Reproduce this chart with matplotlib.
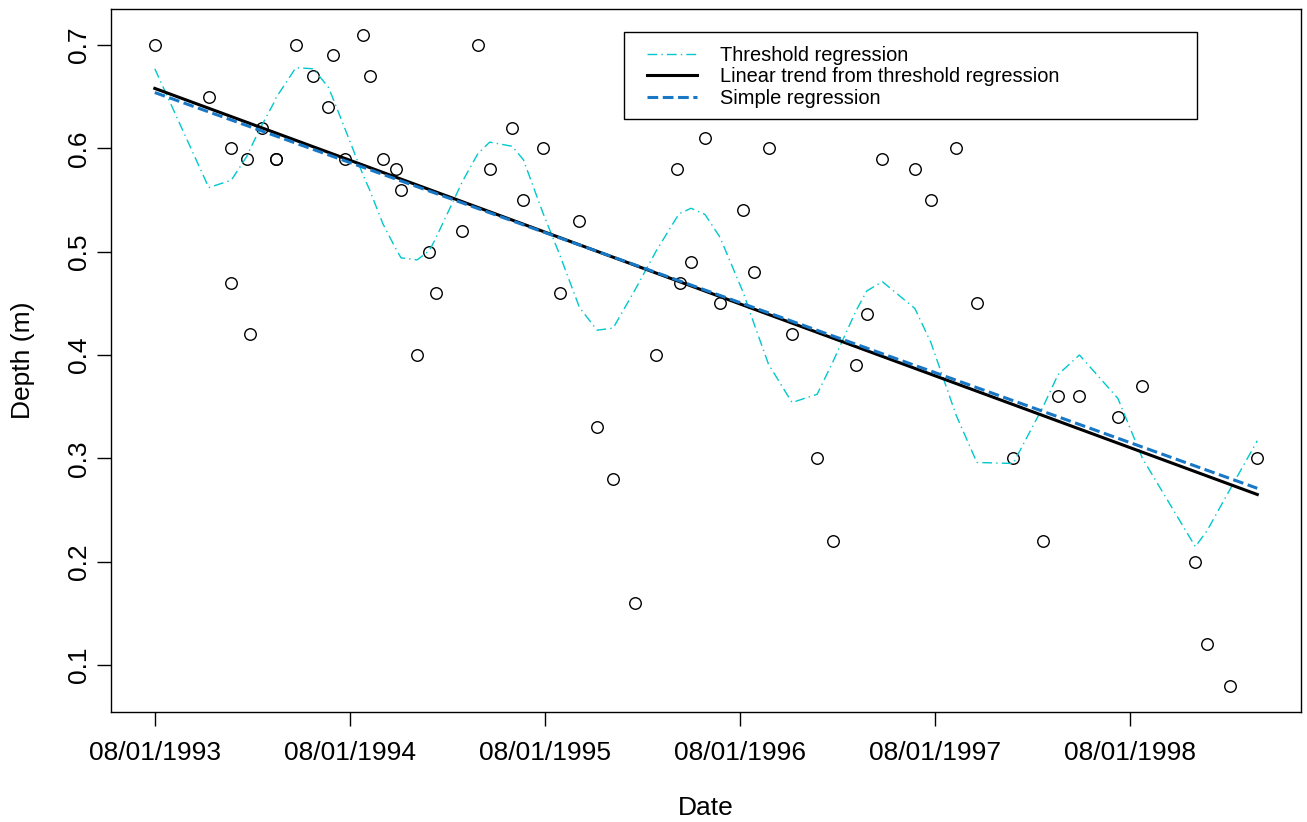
import numpy as np
import pandas as pd
import matplotlib
matplotlib.use("Agg")
import matplotlib.pyplot as plt
import matplotlib.dates as mdates
from matplotlib.patches import Rectangle

plt.rcParams["font.family"] = ["Liberation Sans", "DejaVu Sans"]

# sampling dates and measured depth (m)
dates = pd.to_datetime([
    "1993-08-01", "1993-11-10", "1993-12-21", "1993-12-22", "1994-01-20",
    "1994-01-27", "1994-02-17", "1994-03-15", "1994-03-16", "1994-04-22",
    "1994-05-25", "1994-06-22", "1994-06-30", "1994-07-23", "1994-08-26",
    "1994-09-07", "1994-10-02", "1994-10-26", "1994-11-05", "1994-12-05",
    "1994-12-28", "1995-01-09", "1995-02-28", "1995-03-29", "1995-04-20",
    "1995-06-01", "1995-06-22", "1995-07-29", "1995-08-29", "1995-10-05",
    "1995-11-07", "1995-12-07", "1996-01-17", "1996-02-26", "1996-04-04",
    "1996-04-10", "1996-05-01", "1996-05-27", "1996-06-24", "1996-08-07",
    "1996-08-27", "1996-09-23", "1996-11-06", "1996-12-23", "1997-01-22",
    "1997-03-06", "1997-03-26", "1997-04-24", "1997-06-24", "1997-07-24",
    "1997-09-09", "1997-10-18", "1997-12-25", "1998-02-19", "1998-03-19",
    "1998-04-28", "1998-07-09", "1998-08-24", "1998-12-01", "1998-12-23",
    "1999-02-04", "1999-03-27",
])
depth = np.array([
    0.70, 0.65, 0.60, 0.47, 0.59, 0.42, 0.62, 0.59, 0.59, 0.70,
    0.67, 0.64, 0.69, 0.59, 0.71, 0.67, 0.59, 0.58, 0.56, 0.40,
    0.50, 0.46, 0.52, 0.70, 0.58, 0.62, 0.55, 0.60, 0.46, 0.53,
    0.33, 0.28, 0.16, 0.40, 0.58, 0.47, 0.49, 0.61, 0.45, 0.54,
    0.48, 0.60, 0.42, 0.30, 0.22, 0.39, 0.44, 0.59, 0.58, 0.55,
    0.60, 0.45, 0.30, 0.22, 0.36, 0.36, 0.34, 0.37, 0.20, 0.12,
    0.08, 0.30,
])
# fitted values of the threshold (seasonal) regression at each date
threshold_fit = np.array([
    0.677, 0.562, 0.569, 0.569, 0.592, 0.600, 0.622, 0.647, 0.649, 0.678,
    0.677, 0.659, 0.649, 0.619, 0.574, 0.560, 0.527, 0.503, 0.494, 0.492,
    0.501, 0.513, 0.568, 0.595, 0.606, 0.602, 0.589, 0.537, 0.497, 0.446,
    0.424, 0.426, 0.463, 0.501, 0.533, 0.537, 0.542, 0.536, 0.514, 0.460,
    0.430, 0.391, 0.354, 0.362, 0.394, 0.443, 0.462, 0.471, 0.445, 0.412,
    0.342, 0.296, 0.295, 0.350, 0.381, 0.400, 0.358, 0.300, 0.2145, 0.230,
    0.270, 0.317,
])
# straight lines: value at first and last date
trend_ends = [0.658, 0.265]
simple_ends = [0.654, 0.271]

tick_dates = pd.to_datetime(["1993-08-01", "1994-08-01", "1995-08-01",
                             "1996-08-01", "1997-08-01", "1998-08-01"])
y_ticks = [0.1, 0.2, 0.3, 0.4, 0.5, 0.6, 0.7]
legend_labels = ["Threshold regression", "Linear trend from threshold regression",
                 "Simple regression"]

fig = plt.figure(figsize=(13.07, 8.22), dpi=100)
ax = fig.add_axes([0.0847, 0.1342, 0.9110, 0.8553])

ax.plot(dates, depth, "o", mfc="none", mec="black", ms=8.3, mew=1.0, zorder=2)
ax.plot(dates, threshold_fit, color="#00C8CC", lw=1.0, dashes=(7, 3, 1, 3),
        label=legend_labels[0], zorder=3)
ends = [dates[0], dates[-1]]
ax.plot(ends, trend_ends, color="black", lw=2.2, label=legend_labels[1], zorder=3)
ax.plot(ends, simple_ends, color="#1878C6", lw=2.2, dashes=(3.5, 1.5),
        label=legend_labels[2], zorder=3)

# R-style 4% padding around data range
xn = mdates.date2num(dates)
xpad = 0.04 * (xn.max() - xn.min())
ax.set_xlim(xn.min() - xpad, xn.max() + xpad)
ypad = 0.04 * (depth.max() - depth.min())
ax.set_ylim(depth.min() - ypad, depth.max() + ypad)

ax.set_xticks(tick_dates)
ax.xaxis.set_major_formatter(mdates.DateFormatter("%m/%d/%Y"))
ax.set_yticks(y_ticks)
ax.set_yticklabels([f"{v:.1f}" for v in y_ticks])
ax.tick_params(axis="both", direction="out", length=10, width=1, labelsize=19,
               colors="black")
ax.tick_params(axis="x", pad=11)
ax.tick_params(axis="y", pad=4.5, labelrotation=90)
plt.setp(ax.get_yticklabels(), va="center")
for sp in ax.spines.values():
    sp.set_linewidth(1)
    sp.set_color("black")

ax.set_xlabel("Date", fontsize=19)
ax.xaxis.set_label_coords(0.5, -0.137)
ax.xaxis.label.set_va("center")
ax.set_ylabel("Depth (m)", fontsize=19)
ax.yaxis.set_label_coords(-0.0735, 0.5)
ax.yaxis.label.set_va("center")

leg = ax.legend(loc="upper left", bbox_to_anchor=(646.7 / 1307, 1 - 46 / 822),
                bbox_transform=fig.transFigure, frameon=False, borderpad=0,
                borderaxespad=0, fontsize=14.4, handlelength=2.5,
                handletextpad=1.17, labelspacing=0.12)
box = Rectangle((624 / 1307, 1 - 119 / 822), 572.7 / 1307, 87.3 / 822,
                transform=fig.transFigure, facecolor="white", edgecolor="black",
                lw=1, clip_on=False, zorder=4)
ax.add_patch(box)

fig.savefig("out.png", dpi=100)
